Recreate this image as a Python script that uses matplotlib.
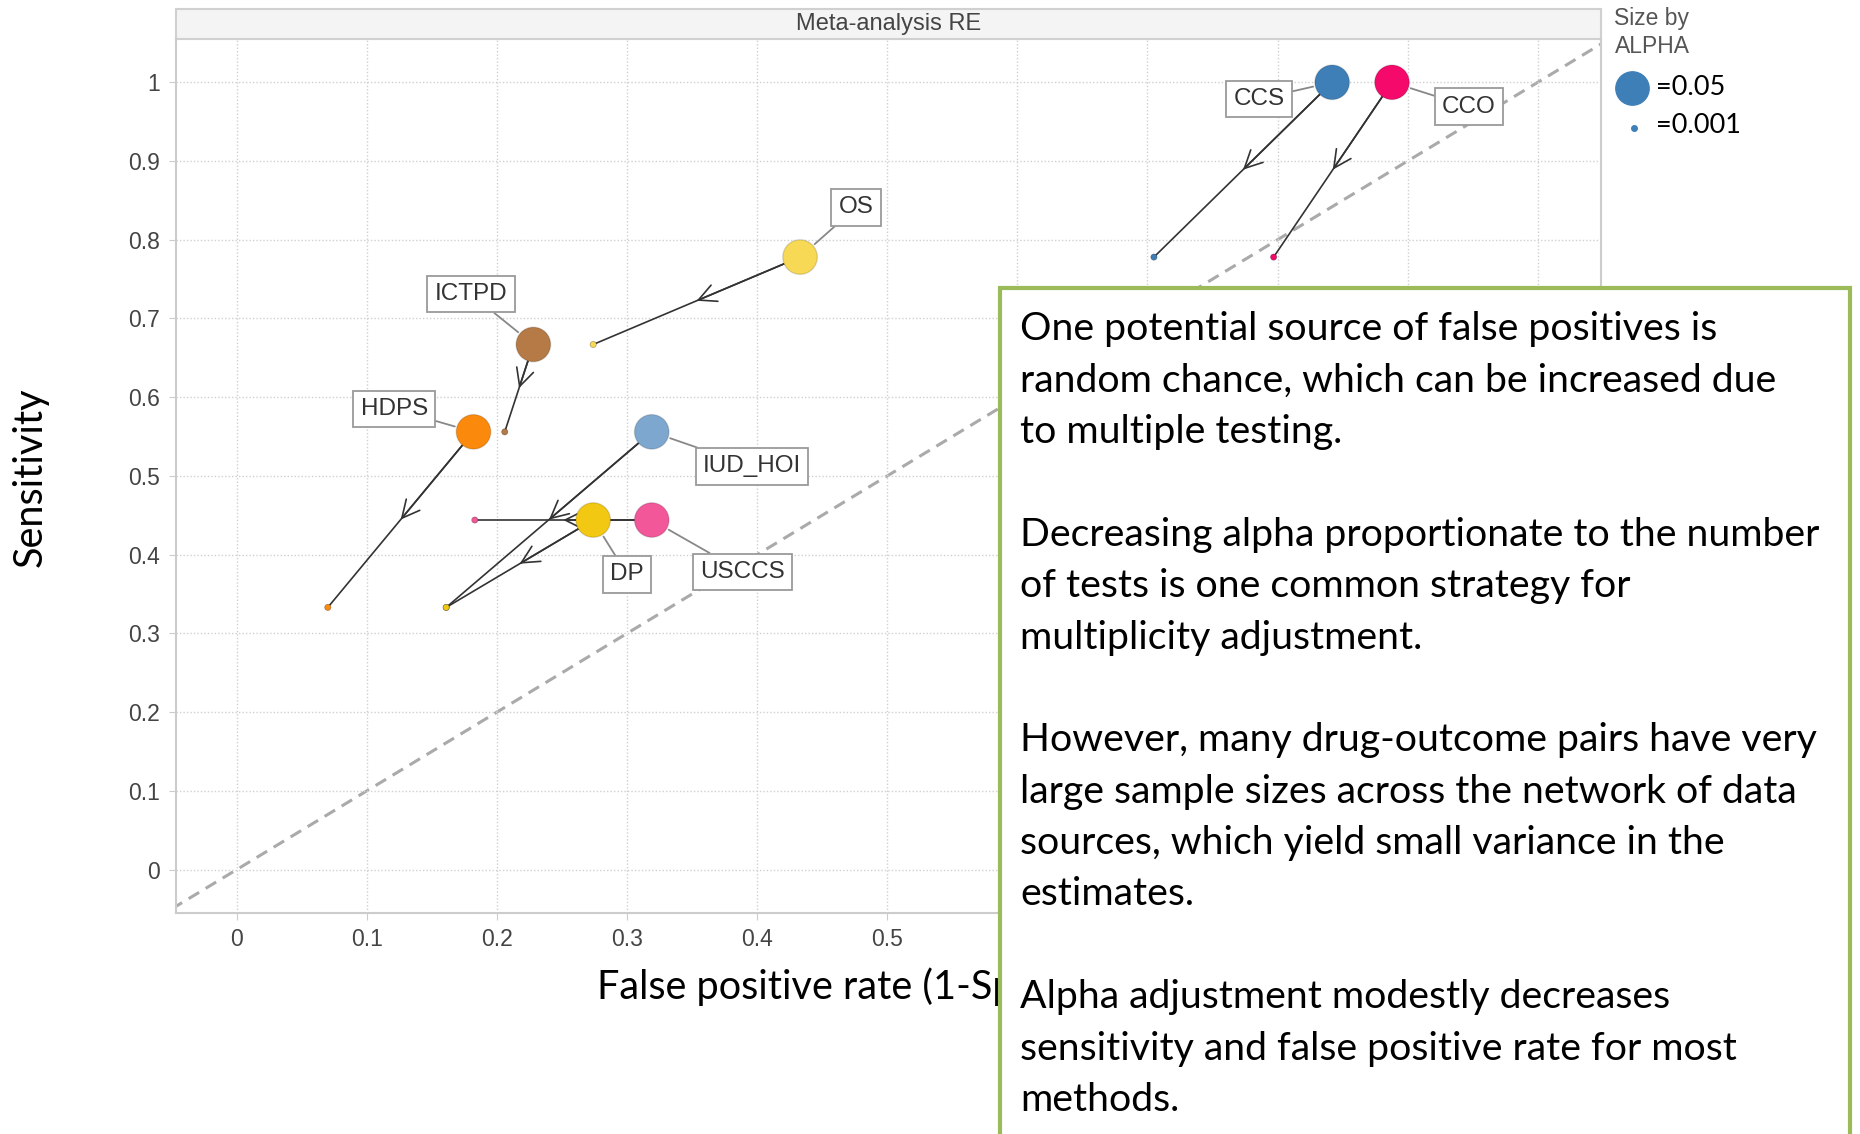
import matplotlib
matplotlib.use("Agg")
import matplotlib.pyplot as plt
from matplotlib.patches import Rectangle

# methods, points at alpha=0.05 (big) and alpha=0.001 (small)
methods = ["CCS", "CCO", "OS", "ICTPD", "HDPS", "IUD_HOI", "DP", "USCCS"]
fpr_05 = [0.842, 0.888, 0.433, 0.228, 0.182, 0.319, 0.274, 0.319]
sens_05 = [1.0, 1.0, 0.778, 0.667, 0.556, 0.556, 0.444, 0.444]
fpr_001 = [0.705, 0.797, 0.274, 0.206, 0.070, 0.161, 0.161, 0.183]
sens_001 = [0.778, 0.778, 0.667, 0.556, 0.333, 0.333, 0.333, 0.444]
colors = ["#3f7fb8", "#f50a6c", "#f7d955", "#b57a45", "#fb8a0c", "#7ea7cf", "#f2c812", "#f2579a"]
label_x = [0.786, 0.947, 0.476, 0.180, 0.121, 0.396, 0.300, 0.389]
label_y = [0.979, 0.969, 0.841, 0.731, 0.585, 0.512, 0.375, 0.378]

ticks = [0, 0.1, 0.2, 0.3, 0.4, 0.5, 0.6, 0.7, 0.8, 0.9, 1]
tick_labels = ["0", "0.1", "0.2", "0.3", "0.4", "0.5", "0.6", "0.7", "0.8", "0.9", "1"]

notes = [
    "One potential source of false positives is",
    "random chance, which can be increased due",
    "to multiple testing.",
    "",
    "Decreasing alpha proportionate to the number",
    "of tests is one common strategy for",
    "multiplicity adjustment.",
    "",
    "However, many drug-outcome pairs have very",
    "large sample sizes across the network of data",
    "sources, which yield small variance in the",
    "estimates.",
    "",
    "Alpha adjustment modestly decreases",
    "sensitivity and false positive rate for most",
    "methods.",
]

chart_font = ["Liberation Sans", "DejaVu Sans"]
note_font = ["Lato", "DejaVu Sans"]

fig = plt.figure(figsize=(18.6, 11.34), dpi=100)
ax = fig.add_axes([0.0944, 0.195, 0.7666, 0.7706])
ax.set_xlim(-0.047, 1.049)
ax.set_ylim(-0.055, 1.055)

# grid + spines
ax.set_xticks(ticks)
ax.set_yticks(ticks)
ax.set_xticklabels(tick_labels, family=chart_font, fontsize=16.5, color="#444")
ax.set_yticklabels(tick_labels, family=chart_font, fontsize=16.5, color="#444")
ax.tick_params(length=5, color="#cccccc", pad=6)
ax.grid(True, linestyle=(0, (1, 1.5)), color="#d0d0d0", linewidth=1)
for s in ["left", "bottom", "right"]:
    ax.spines[s].set_color("#cccccc")
    ax.spines[s].set_linewidth(1.5)
ax.spines["top"].set_visible(False)

# diagonal
ax.plot([-0.05, 1.05], [-0.05, 1.05], linestyle=(0, (4, 2.5)), color="#aaaaaa", lw=2.2, zorder=1)

# arrows from alpha=0.05 to alpha=0.001
for i in range(len(methods)):
    x0, y0 = fpr_05[i], sens_05[i]
    x1, y1 = fpr_001[i], sens_001[i]
    ax.plot([x0, x1], [y0, y1], color="#333333", lw=1.2, zorder=2)
    mx, my = (x0 + x1) / 2, (y0 + y1) / 2
    ax.annotate("", xy=(mx, my), xytext=(x0, y0),
                arrowprops=dict(arrowstyle="->,head_length=0.9,head_width=0.45",
                                color="#333333", lw=1.2, shrinkA=0, shrinkB=0,
                                mutation_scale=14), zorder=2)

ax.scatter(fpr_05, sens_05, s=620, c=colors, edgecolors="#00000022", linewidths=1, zorder=3)
ax.scatter(fpr_001, sens_001, s=20, c=colors, edgecolors="#00000055", linewidths=0.5, zorder=3)

# method labels
for i, name in enumerate(methods):
    ax.annotate(name, xy=(fpr_05[i], sens_05[i]), xytext=(label_x[i], label_y[i]),
                ha="center", va="center", family=chart_font, fontsize=17.5, color="#333",
                bbox=dict(boxstyle="square,pad=0.3", fc="white", ec="#9a9a9a", lw=1.3),
                arrowprops=dict(arrowstyle="-", color="#888888", lw=1.3, shrinkA=0, shrinkB=14),
                zorder=4)

# header strip
ax.add_patch(Rectangle((0, 1.0), 1, 0.034, transform=ax.transAxes, clip_on=False,
                       fc="#f4f4f4", ec="#d0d0d0", lw=1.5))
ax.text(0.5, 1.017, "Meta-analysis RE", transform=ax.transAxes, ha="center", va="center",
        family=chart_font, fontsize=17, color="#444")

# axis labels (x label runs under the callout box, as in the slide)
fig.text(0.4725, 0.1296, "False positive rate (1-Specificity)", ha="center", va="center",
         family=note_font, fontsize=28.5, color="black")
fig.text(0.016, 0.579, "Sensitivity", ha="center", va="center", rotation=90,
         family=note_font, fontsize=28.5, color="black")

# size legend
fig.text(0.868, 0.984, "Size by", ha="left", va="center", family=chart_font, fontsize=16.5, color="#555")
fig.text(0.868, 0.959, "ALPHA", ha="left", va="center", family=chart_font, fontsize=16.5, color="#555")
fig.add_artist(plt.Line2D([0.8775], [0.9225], marker="o", markersize=24, color="#3f7fb8",
                          transform=fig.transFigure))
fig.add_artist(plt.Line2D([0.8785], [0.8875], marker="o", markersize=4, color="#3f7fb8",
                          transform=fig.transFigure))
fig.text(0.8905, 0.9225, "=0.05", ha="left", va="center", family=note_font, fontsize=19.5, color="black")
fig.text(0.8905, 0.889, "=0.001", ha="left", va="center", family=note_font, fontsize=19.5, color="black")

# callout box
fig.add_artist(Rectangle((0.5376, -0.05), 0.4568, 0.7961, transform=fig.transFigure,
                         fc="white", ec="#9bbb59", lw=3, zorder=10))
for k, line in enumerate(notes):
    fig.text(0.5484, 0.7095 - k * 0.0453, line, ha="left", va="center", family=note_font,
             fontsize=28.3, color="black", zorder=11)

fig.savefig("out.png", dpi=100)
